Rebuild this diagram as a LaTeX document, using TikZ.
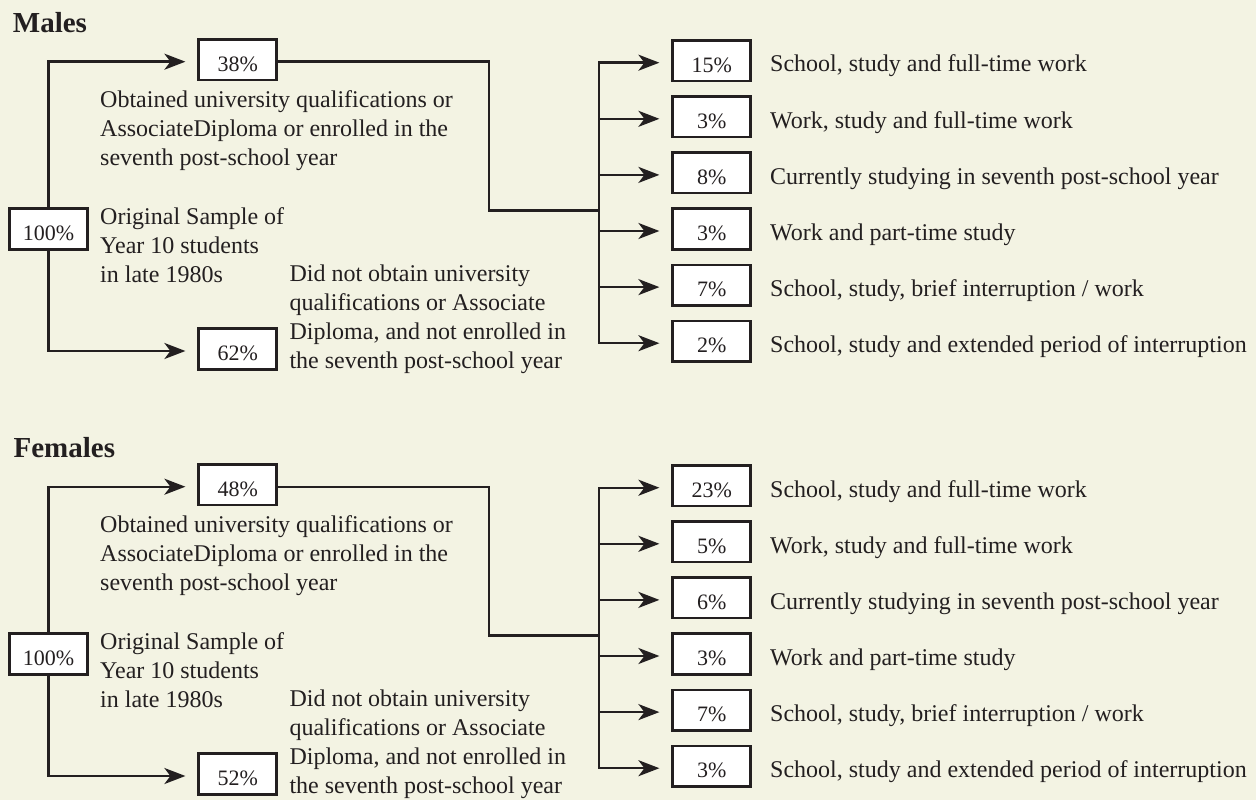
\documentclass[tikz,border=0pt]{standalone}
\usepackage{fontspec}
\setmainfont{Liberation Serif}
\usetikzlibrary{arrows.meta}
\definecolor{bg}{HTML}{F3F3E3}
\definecolor{ink}{HTML}{231F20}
\tikzset{
  pbox/.style={draw=ink, fill=white, line width=2.6pt, minimum width=78pt,
    minimum height=40.5pt, inner sep=0pt, text=ink,
    font=\fontsize{22}{26}\selectfont, text height=23pt, text depth=0pt},
  conn/.style={draw=ink, line width=2.4pt, line cap=rect, line join=miter},
  arr/.style={draw=ink, line width=2.4pt, -{Stealth[length=21pt,width=16pt,inset=6pt]}, shorten >=12pt},
  lbl/.style={anchor=base west, inner sep=0pt, text=ink,
    font=\fontsize{24}{29}\selectfont, align=left},
  ttl/.style={anchor=base west, inner sep=0pt, text=ink,
    font=\fontsize{29}{34}\selectfont\bfseries},
}
\newcommand\DiagRow[5]{% prefix, index, arrow y, pct, label
  \node[pbox] (#1r#2) at (711.7,#3-2) {#4\%};
  \coordinate (#1t#2) at (599,#3);
  \draw[arr] (#1t#2) -- ([yshift=-2pt]#1r#2.west);
  \node[lbl] (#1l#2) at (770,#3+9.3) {#5};
}
\newcommand\DiagPanel[9]{% prefix, top, bottom, six rows
  \node[pbox] (#1top) at (237.7,59.7) {#2\%};
  \node[pbox] (#1all) at (48.5,229) {100\%};
  \node[pbox] (#1bot) at (237.7,349) {#3\%};
  \node[lbl] (#1lo) at (100,165.7) {Obtained university qualifications or\\AssociateDiploma or enrolled in the\\seventh post-school year};
  \node[lbl] (#1ls) at (100,282) {Original Sample of\\Year 10 students\\in late 1980s};
  \node[lbl] (#1ld) at (289.3,368.7) {Did not obtain university\\qualifications or Associate\\Diploma, and not enrolled in\\the seventh post-school year};
  \draw[arr] (#1all.north) |- ([yshift=-2pt]#1top.west);
  \draw[arr] (#1all.south) |- ([yshift=-2pt]#1bot.west);
  \coordinate (#1bend) at (488.7,210.3);
  \coordinate (#1join) at (599,210.3);
  \draw[conn] ([yshift=-2pt]#1top.east) -| (#1bend) -- (#1join);
  \DiagRow{#1}{1}{62.7}{#4}{School, study and full-time work}
  \DiagRow{#1}{2}{118.8}{#5}{Work, study and full-time work}
  \DiagRow{#1}{3}{174.9}{#6}{Currently studying in seventh post-school year}
  \DiagRow{#1}{4}{231.0}{#7}{Work and part-time study}
  \DiagRow{#1}{5}{287.1}{#8}{School, study, brief interruption / work}
  \DiagRow{#1}{6}{343.2}{#9}{School, study and extended period of interruption}
  \draw[conn] (#1t1) -- (#1t6);
}
\begin{document}
\begin{tikzpicture}[x=1pt,y=-1pt]
  \fill[bg] (0,0) rectangle (1256,800);
  \useasboundingbox (0,0) rectangle (1256,800);
  \node[ttl] (males) at (12.7,33) {Males};
  \DiagPanel{m}{38}{62}{15}{3}{8}{3}{7}{2}
  \node[ttl] (females) at (13.4,457) {Females};
  \begin{scope}[yshift=-425pt]
    \DiagPanel{f}{48}{52}{23}{5}{6}{3}{7}{3}
  \end{scope}
\end{tikzpicture}
\end{document}
